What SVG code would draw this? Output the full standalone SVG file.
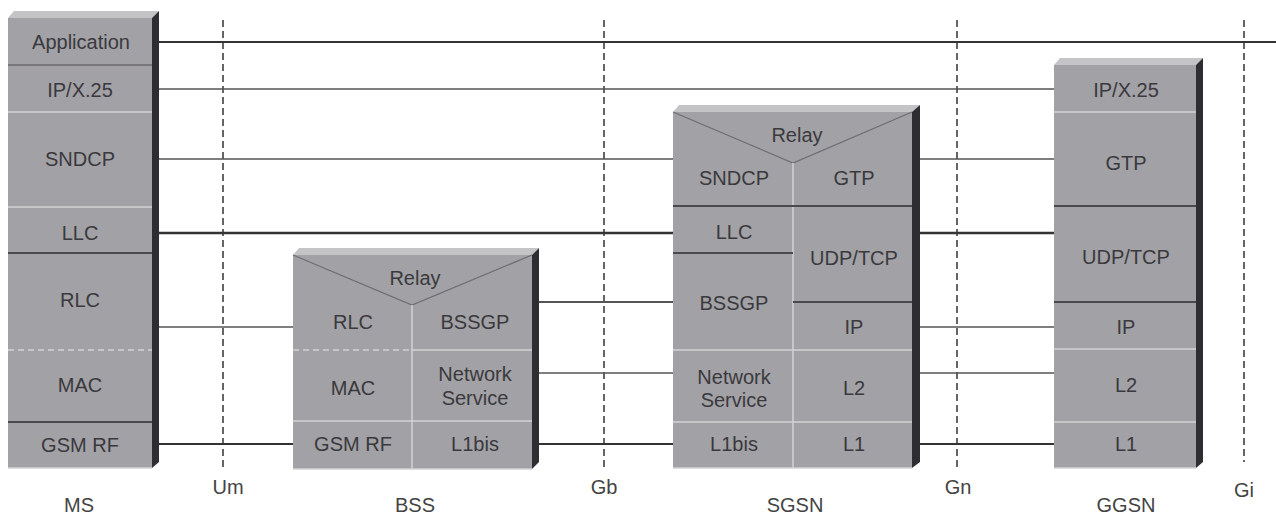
<svg xmlns="http://www.w3.org/2000/svg" width="1276" height="517" viewBox="0 0 1276 517">
  <style>
    .body { fill: #a2a1a5; }
    .top { fill: #c4c3c6; }
    .side { fill: #2e2d31; }
    .lt { stroke: #d2d2d4; stroke-width: 1.5; fill: none; }
    .dk { stroke: #4a494d; stroke-width: 2; fill: none; }
    .ltd { stroke: #d2d2d4; stroke-width: 1.5; stroke-dasharray: 6 4; fill: none; }
    .v { stroke: #6e6d72; stroke-width: 1.2; fill: none; }
    .lbl { font-family: "Liberation Sans", Arial, sans-serif; font-size: 20px; fill: #3a393d; text-anchor: middle; }
    .cap { font-family: "Liberation Sans", Arial, sans-serif; font-size: 20px; fill: #444; text-anchor: middle; }
    .ref { stroke: #333; stroke-width: 1.5; stroke-dasharray: 7 4; fill: none; }
    .ln { stroke: #555; stroke-width: 1.6; fill: none; }
    .thk { stroke: #333; stroke-width: 2.6; fill: none; }
  </style>

  <!-- reference points -->
  <g id="reference-points">
    <line class="ref" x1="223" y1="20" x2="223" y2="468"/>
    <line class="ref" x1="604" y1="20" x2="604" y2="468"/>
    <line class="ref" x1="957" y1="20" x2="957" y2="468"/>
    <line class="ref" x1="1244" y1="20" x2="1244" y2="462"/>
    <text class="cap" x="228" y="494">Um</text>
    <text class="cap" x="604" y="494">Gb</text>
    <text class="cap" x="958" y="494">Gn</text>
    <text class="cap" x="1244" y="497">Gi</text>
  </g>

  <!-- peer protocol connectors -->
  <g id="connectors">
    <line class="thk" x1="159" y1="42" x2="1276" y2="42" style="stroke-width:2"/>
    <line class="ln" x1="159" y1="89" x2="1054" y2="89"/>
    <line class="ln" x1="159" y1="159" x2="673" y2="159"/>
    <line class="thk" x1="159" y1="233" x2="673" y2="233"/>
    <line class="ln" x1="159" y1="327" x2="293" y2="327"/>
    <line class="thk" x1="159" y1="444" x2="293" y2="444" style="stroke-width:2"/>
    <line class="ln" x1="539" y1="302" x2="673" y2="302" style="stroke-width:2"/>
    <line class="ln" x1="539" y1="373" x2="673" y2="373"/>
    <line class="thk" x1="539" y1="444" x2="673" y2="444" style="stroke-width:2"/>
    <line class="ln" x1="920" y1="159" x2="1054" y2="159"/>
    <line class="thk" x1="920" y1="233" x2="1054" y2="233"/>
    <line class="ln" x1="920" y1="327" x2="1054" y2="327"/>
    <line class="ln" x1="920" y1="373" x2="1054" y2="373"/>
    <line class="thk" x1="920" y1="444" x2="1054" y2="444" style="stroke-width:2"/>
  </g>

  <!-- MS stack -->
  <g id="ms">
    <rect class="body" x="8" y="18" width="144" height="450"/>
    <polygon class="top" points="8,18 14,11 159,11 152,18"/>
    <polygon class="side" points="152,18 159,11 159,462 152,468"/>
    <line class="dk" x1="8" y1="65" x2="152" y2="65" style="stroke-width:1.5;stroke:#6a696d"/>
    <line class="lt" x1="8" y1="112" x2="152" y2="112"/>
    <line class="lt" x1="8" y1="207" x2="152" y2="207"/>
    <line class="dk" x1="8" y1="253" x2="152" y2="253"/>
    <line class="ltd" x1="8" y1="350" x2="152" y2="350"/>
    <line class="dk" x1="8" y1="422" x2="152" y2="422"/>
    <line class="lt" x1="8" y1="468" x2="152" y2="468"/>
    <text class="lbl" x="81" y="49">Application</text>
    <text class="lbl" x="80" y="97">IP/X.25</text>
    <text class="lbl" x="80" y="166">SNDCP</text>
    <text class="lbl" x="80" y="240">LLC</text>
    <text class="lbl" x="80" y="307">RLC</text>
    <text class="lbl" x="80" y="392">MAC</text>
    <text class="lbl" x="80" y="452">GSM RF</text>
    <text class="cap" x="79" y="512">MS</text>
  </g>

  <!-- BSS stack -->
  <g id="bss">
    <rect class="body" x="293" y="255" width="239" height="214"/>
    <polygon class="top" points="293,255 299,248 539,248 532,255"/>
    <polygon class="side" points="532,255 539,248 539,462 532,469"/>
    <polyline class="v" points="293,255 412,305 532,255"/>
    <line class="lt" x1="412" y1="305" x2="412" y2="469"/>
    <line class="ltd" x1="293" y1="350" x2="412" y2="350"/>
    <line class="lt" x1="412" y1="350" x2="532" y2="350"/>
    <line class="lt" x1="293" y1="421" x2="532" y2="421"/>
    <line class="lt" x1="293" y1="469" x2="532" y2="469"/>
    <text class="lbl" x="415" y="285">Relay</text>
    <text class="lbl" x="353" y="329">RLC</text>
    <text class="lbl" x="475" y="329">BSSGP</text>
    <text class="lbl" x="353" y="395">MAC</text>
    <text class="lbl" x="475" y="381">Network</text>
    <text class="lbl" x="475" y="405">Service</text>
    <text class="lbl" x="353" y="451">GSM RF</text>
    <text class="lbl" x="475" y="451">L1bis</text>
    <text class="cap" x="415" y="512">BSS</text>
  </g>

  <!-- SGSN stack -->
  <g id="sgsn">
    <rect class="body" x="673" y="112" width="239" height="356"/>
    <polygon class="top" points="673,112 679,105 920,105 912,112"/>
    <polygon class="side" points="912,112 920,105 920,462 912,468"/>
    <polyline class="v" points="673,112 793,163 912,112"/>
    <line class="lt" x1="793" y1="163" x2="793" y2="468"/>
    <line class="dk" x1="673" y1="206" x2="912" y2="206"/>
    <line class="dk" x1="673" y1="253" x2="793" y2="253"/>
    <line class="dk" x1="793" y1="302" x2="912" y2="302"/>
    <line class="lt" x1="673" y1="350" x2="912" y2="350"/>
    <line class="lt" x1="673" y1="422" x2="912" y2="422"/>
    <line class="lt" x1="673" y1="468" x2="912" y2="468"/>
    <text class="lbl" x="797" y="142">Relay</text>
    <text class="lbl" x="734" y="185">SNDCP</text>
    <text class="lbl" x="854" y="185">GTP</text>
    <text class="lbl" x="734" y="239">LLC</text>
    <text class="lbl" x="854" y="265">UDP/TCP</text>
    <text class="lbl" x="734" y="310">BSSGP</text>
    <text class="lbl" x="854" y="334">IP</text>
    <text class="lbl" x="734" y="384">Network</text>
    <text class="lbl" x="734" y="407">Service</text>
    <text class="lbl" x="854" y="395">L2</text>
    <text class="lbl" x="734" y="451">L1bis</text>
    <text class="lbl" x="854" y="451">L1</text>
    <text class="cap" x="795" y="512">SGSN</text>
  </g>

  <!-- GGSN stack -->
  <g id="ggsn">
    <rect class="body" x="1054" y="65" width="142" height="403"/>
    <polygon class="top" points="1054,65 1060,58 1203,58 1196,65"/>
    <polygon class="side" points="1196,65 1203,58 1203,462 1196,468"/>
    <line class="lt" x1="1054" y1="112" x2="1196" y2="112"/>
    <line class="dk" x1="1054" y1="206" x2="1196" y2="206"/>
    <line class="dk" x1="1054" y1="302" x2="1196" y2="302"/>
    <line class="lt" x1="1054" y1="349" x2="1196" y2="349"/>
    <line class="lt" x1="1054" y1="422" x2="1196" y2="422"/>
    <line class="lt" x1="1054" y1="468" x2="1196" y2="468"/>
    <text class="lbl" x="1126" y="97">IP/X.25</text>
    <text class="lbl" x="1126" y="170">GTP</text>
    <text class="lbl" x="1126" y="264">UDP/TCP</text>
    <text class="lbl" x="1126" y="334">IP</text>
    <text class="lbl" x="1126" y="392">L2</text>
    <text class="lbl" x="1126" y="451">L1</text>
    <text class="cap" x="1126" y="512">GGSN</text>
  </g>
</svg>
